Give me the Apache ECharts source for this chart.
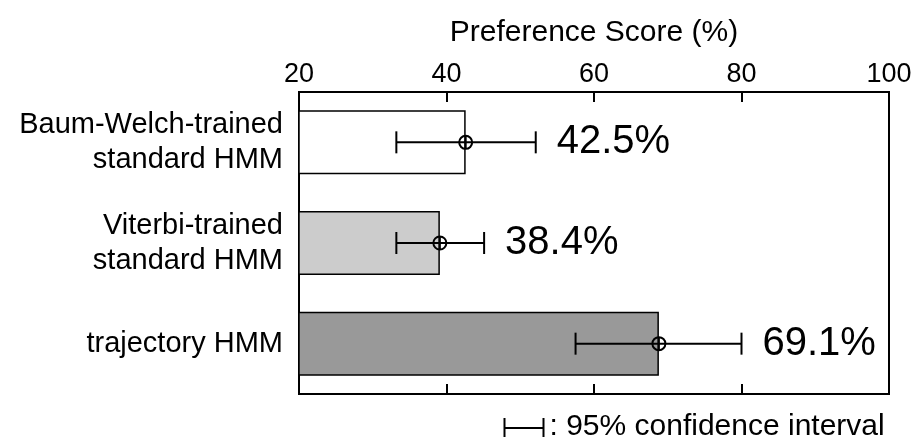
<!DOCTYPE html>
<html>
<head>
<meta charset="utf-8">
<script src="https://cdn.jsdelivr.net/npm/echarts@6/dist/echarts.min.js"></script>
<style>
html,body{margin:0;padding:0;background:#fff;}
#chart{width:919px;height:437px;}
</style>
</head>
<body>
<div id="chart"></div>
<script>
// ---- data ----
const categories = ['Baum-Welch-trained\nstandard HMM', 'Viterbi-trained\nstandard HMM', 'trajectory HMM'];
const scores = [42.6, 39.1, 68.8];
const ciLow = [33.2, 33.2, 57.5];
const ciHigh = [52.1, 45.1, 80.0];
const scoreLabels = ['42.5%', '38.4%', '69.1%'];
const xMin = 20, xMax = 100, xStep = 20;
const xTitle = 'Preference Score (%)';
const legendText = ': 95% confidence interval';

const FONT = '"Liberation Sans", Arial, Helvetica, sans-serif';
const fills = ['#ffffff', '#cccccc', '#999999'];

const chart = echarts.init(document.getElementById('chart'), null, {renderer: 'canvas'});

const errData = categories.map((c, i) => [i, ciLow[i], ciHigh[i], scores[i], scoreLabels[i]]);

const option = {
  animation: false,
  backgroundColor: '#ffffff',
  textStyle: {fontFamily: FONT, color: '#000'},
  grid: {left: 299, right: 30, top: 92, bottom: 43, show: true, borderColor: '#000', borderWidth: 2, containLabel: false},
  xAxis: [
    {
      type: 'value', position: 'top', min: xMin, max: xMax, interval: xStep,
      name: xTitle, nameLocation: 'middle', nameGap: 44,
      nameTextStyle: {fontSize: 30, color: '#000', fontFamily: FONT},
      axisLine: {show: true, lineStyle: {color: '#000', width: 2}},
      axisTick: {show: true, inside: true, length: 10, lineStyle: {color: '#000', width: 2}},
      axisLabel: {show: true, fontSize: 27, color: '#000', margin: 4, fontFamily: FONT},
      splitLine: {show: false}
    },
    {
      type: 'value', position: 'bottom', min: xMin, max: xMax, interval: xStep,
      axisLine: {show: true, lineStyle: {color: '#000', width: 2}},
      axisTick: {show: true, inside: true, length: 10, lineStyle: {color: '#000', width: 2}},
      axisLabel: {show: false},
      splitLine: {show: false}
    }
  ],
  yAxis: {
    type: 'category', data: categories, inverse: true,
    axisLine: {show: true, lineStyle: {color: '#000', width: 2}},
    axisTick: {show: false},
    axisLabel: {fontSize: 29, lineHeight: 35, color: '#000', margin: 16, align: 'right', fontFamily: FONT},
    splitLine: {show: false}
  },
  series: [
    {
      type: 'bar', xAxisIndex: 0,
      data: scores.map((v, i) => ({value: v, itemStyle: {color: fills[i]}})),
      barWidth: 64,
      itemStyle: {borderColor: '#000', borderWidth: 1.5},
      z: 2
    },
    {
      type: 'custom', xAxisIndex: 0,
      data: errData,
      encode: {x: [1, 2, 3], y: 0},
      z: 5,
      renderItem: function (params, api) {
        const cat = api.value(0);
        const lo = api.coord([api.value(1), cat]);
        const hi = api.coord([api.value(2), cat]);
        const mid = api.coord([api.value(3), cat]);
        const label = errData[params.dataIndex][4];
        const cap = 11, r = 6.5;
        const st = {stroke: '#000', lineWidth: 2, fill: null};
        return {
          type: 'group',
          children: [
            {type: 'line', shape: {x1: lo[0], y1: lo[1], x2: hi[0], y2: hi[1]}, style: st},
            {type: 'line', shape: {x1: lo[0], y1: lo[1] - cap, x2: lo[0], y2: lo[1] + cap}, style: st},
            {type: 'line', shape: {x1: hi[0], y1: hi[1] - cap, x2: hi[0], y2: hi[1] + cap}, style: st},
            {type: 'circle', shape: {cx: mid[0], cy: mid[1], r: r}, style: {stroke: '#000', lineWidth: 2, fill: 'none'}},
            {type: 'line', shape: {x1: mid[0], y1: mid[1] - r, x2: mid[0], y2: mid[1] + r}, style: st},
            {type: 'text', x: hi[0] + 21, y: hi[1],
              style: {text: label, fontSize: 40, fontFamily: FONT, fill: '#000', verticalAlign: 'middle', align: 'left'}}
          ]
        };
      }
    }
  ],
  graphic: [
    {
      type: 'group', left: 502, top: 412,
      children: [
        {type: 'line', shape: {x1: 1, y1: 11, x2: 40, y2: 11}, style: {stroke: '#000', lineWidth: 2}},
        {type: 'line', shape: {x1: 1, y1: 1, x2: 1, y2: 21}, style: {stroke: '#000', lineWidth: 2}},
        {type: 'line', shape: {x1: 40, y1: 1, x2: 40, y2: 21}, style: {stroke: '#000', lineWidth: 2}},
        {type: 'text', x: 46, y: 10, style: {text: legendText, fontSize: 30, fontFamily: FONT, fill: '#000', verticalAlign: 'middle'}}
      ]
    }
  ]
};
chart.setOption(option);
</script>
</body>
</html>
